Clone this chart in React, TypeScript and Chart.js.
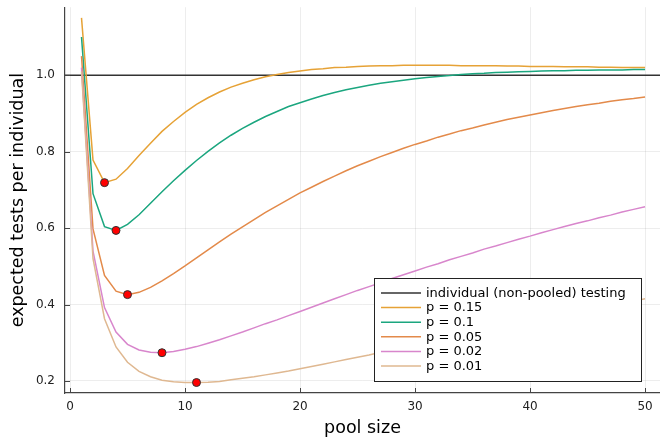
import React, { useEffect, useRef } from "react";
import { Chart, registerables } from "chart.js";

Chart.register(...registerables);

const poolSizes = [1, 2, 3, 4, 5, 6, 7, 8, 9, 10, 11, 12, 13, 14, 15, 16, 17, 18, 19, 20, 21, 22, 23, 24, 25, 26, 27, 28, 29, 30, 31, 32, 33, 34, 35, 36, 37, 38, 39, 40, 41, 42, 43, 44, 45, 46, 47, 48, 49, 50];

const p015 = [1.15, 0.778, 0.719, 0.728, 0.756, 0.79, 0.822, 0.853, 0.879, 0.903, 0.924, 0.941, 0.956, 0.969, 0.979, 0.988, 0.996, 1.002, 1.007, 1.011, 1.015, 1.017, 1.02, 1.021, 1.023, 1.024, 1.025, 1.025, 1.026, 1.026, 1.026, 1.026, 1.026, 1.025, 1.025, 1.025, 1.025, 1.024, 1.024, 1.023, 1.023, 1.023, 1.022, 1.022, 1.022, 1.021, 1.021, 1.02, 1.02, 1.02];

const p010 = [1.1, 0.69, 0.604, 0.594, 0.61, 0.635, 0.665, 0.695, 0.724, 0.751, 0.777, 0.801, 0.823, 0.843, 0.861, 0.877, 0.892, 0.905, 0.918, 0.928, 0.938, 0.947, 0.955, 0.962, 0.968, 0.974, 0.979, 0.983, 0.987, 0.991, 0.994, 0.997, 0.999, 1.002, 1.004, 1.005, 1.007, 1.008, 1.009, 1.01, 1.011, 1.012, 1.012, 1.013, 1.013, 1.014, 1.014, 1.014, 1.015, 1.015];

const p005 = [1.05, 0.598, 0.476, 0.435, 0.426, 0.432, 0.445, 0.462, 0.481, 0.501, 0.522, 0.543, 0.564, 0.584, 0.603, 0.622, 0.641, 0.658, 0.675, 0.692, 0.707, 0.722, 0.736, 0.75, 0.763, 0.775, 0.787, 0.798, 0.809, 0.819, 0.828, 0.838, 0.846, 0.855, 0.862, 0.87, 0.877, 0.884, 0.89, 0.896, 0.902, 0.908, 0.913, 0.918, 0.923, 0.927, 0.932, 0.936, 0.939, 0.943];

const p002 = [1.02, 0.54, 0.392, 0.328, 0.296, 0.281, 0.275, 0.274, 0.277, 0.283, 0.29, 0.299, 0.308, 0.318, 0.328, 0.339, 0.35, 0.36, 0.371, 0.382, 0.393, 0.404, 0.415, 0.426, 0.437, 0.447, 0.457, 0.468, 0.478, 0.488, 0.498, 0.507, 0.517, 0.526, 0.535, 0.545, 0.553, 0.562, 0.571, 0.579, 0.588, 0.596, 0.604, 0.612, 0.619, 0.627, 0.634, 0.642, 0.649, 0.656];

const p001 = [1.01, 0.52, 0.363, 0.289, 0.249, 0.225, 0.211, 0.202, 0.198, 0.196, 0.196, 0.197, 0.199, 0.203, 0.207, 0.211, 0.216, 0.221, 0.226, 0.232, 0.238, 0.244, 0.25, 0.256, 0.262, 0.268, 0.275, 0.281, 0.287, 0.294, 0.3, 0.306, 0.313, 0.319, 0.325, 0.331, 0.338, 0.344, 0.35, 0.356, 0.362, 0.368, 0.374, 0.38, 0.386, 0.392, 0.398, 0.404, 0.409, 0.415];

const optimalSizes = [3, 4, 5, 8, 11];
const optimalValues = [0.719, 0.594, 0.426, 0.274, 0.196];

const individualValue = 1.0;

const seriesLabels = ["p = 0.15", "p = 0.1", "p = 0.05", "p = 0.02", "p = 0.01"];
const seriesValues = [p015, p010, p005, p002, p001];
const seriesColors = ["#e6a236", "#1ba67f", "#e38a4a", "#d886cc", "#dfb891"];

const xTicks = [0, 10, 20, 30, 40, 50];
const yTicks = [0.2, 0.4, 0.6, 0.8, 1.0];

const X_MIN = -0.435;
const X_MAX = 51.3;
const Y_MIN = 0.1686;
const Y_MAX = 1.178;

const FONT = "DejaVu Sans";
const SHIFT = 10;

const innerTicks = {
  id: "innerTicks",
  afterDatasetsDraw(chart: any) {
    const { ctx, chartArea, scales } = chart;
    ctx.save();
    ctx.strokeStyle = "#444";
    ctx.lineWidth = 1;
    for (const v of xTicks) {
      const px = Math.round(scales.x.getPixelForValue(v)) + 0.5;
      ctx.beginPath();
      ctx.moveTo(px, chartArea.bottom);
      ctx.lineTo(px, chartArea.bottom - 5);
      ctx.stroke();
    }
    for (const v of yTicks) {
      const py = Math.round(scales.y.getPixelForValue(v)) + 0.5;
      ctx.beginPath();
      ctx.moveTo(chartArea.left, py);
      ctx.lineTo(chartArea.left + 5, py);
      ctx.stroke();
    }
    ctx.restore();
  },
};

const boxLegend = {
  id: "boxLegend",
  afterDraw(chart: any) {
    const { ctx } = chart;
    const items = chart.data.datasets.filter((d: any) => d.inLegend);
    const x0 = 374.5;
    const y0 = 278.5 + SHIFT;
    const w = 267;
    const h = 103;
    ctx.save();
    ctx.fillStyle = "#ffffff";
    ctx.fillRect(x0, y0, w, h);
    ctx.strokeStyle = "#222";
    ctx.lineWidth = 1;
    ctx.strokeRect(x0, y0, w, h);
    ctx.font = `13px "${FONT}"`;
    ctx.textBaseline = "middle";
    ctx.textAlign = "left";
    items.forEach((d: any, i: number) => {
      const y = 293 + SHIFT + i * 14.6;
      ctx.strokeStyle = d.borderColor;
      ctx.lineWidth = 1.5;
      ctx.beginPath();
      ctx.moveTo(381, y);
      ctx.lineTo(421, y);
      ctx.stroke();
      ctx.fillStyle = "#000";
      ctx.fillText(d.label, 426, y + 0.5);
    });
    ctx.restore();
  },
};

export default function App() {
  const canvasRef = useRef<HTMLCanvasElement | null>(null);

  useEffect(() => {
    if (!canvasRef.current) return;
    const datasets: any[] = [];
    datasets.push({
      type: "line",
      label: "individual (non-pooled) testing",
      inLegend: true,
      data: [
        { x: X_MIN, y: individualValue },
        { x: X_MAX, y: individualValue },
      ],
      borderColor: "#333333",
      borderWidth: 1.3,
      pointRadius: 0,
      order: 10,
    });
    seriesValues.forEach((vals, i) => {
      datasets.push({
        type: "line",
        label: seriesLabels[i],
        inLegend: true,
        data: poolSizes.map((k, j) => ({ x: k, y: vals[j] })),
        borderColor: seriesColors[i],
        borderWidth: 1.5,
        pointRadius: 0,
        tension: 0,
        order: 9 - i,
      });
    });
    datasets.push({
      type: "scatter",
      label: "optimal",
      inLegend: false,
      data: optimalSizes.map((k, j) => ({ x: k, y: optimalValues[j] })),
      backgroundColor: "#ff0000",
      borderColor: "#333333",
      borderWidth: 1,
      pointRadius: 4,
      order: 0,
    });

    const chart = new Chart(canvasRef.current, {
      type: "line",
      data: { datasets },
      options: {
        animation: false,
        responsive: false,
        devicePixelRatio: 1,
        layout: { padding: { top: 0, left: 0, right: 0, bottom: 0 } },
        plugins: { legend: { display: false }, tooltip: { enabled: false } },
        scales: {
          x: {
            type: "linear",
            min: X_MIN,
            max: X_MAX,
            afterBuildTicks: (scale: any) => {
              scale.ticks = xTicks.map((v) => ({ value: v }));
            },
            afterFit: (scale: any) => {
              scale.height = 50;
            },
            ticks: {
              font: { family: FONT, size: 12 },
              color: "#222",
              padding: 7,
              maxRotation: 0,
              callback: (v: any) => String(v),
            },
            grid: { color: "rgba(0,0,0,0.07)", lineWidth: 1, drawTicks: false },
            border: { display: true, color: "#444", width: 1.2 },
            title: {
              display: true,
              text: "pool size",
              font: { family: FONT, size: 17.5 },
              color: "#000",
              padding: { top: 0, bottom: 4 },
            },
          },
          y: {
            type: "linear",
            min: Y_MIN,
            max: Y_MAX,
            afterBuildTicks: (scale: any) => {
              scale.ticks = yTicks.map((v) => ({ value: v }));
            },
            afterFit: (scale: any) => {
              scale.width = 65;
            },
            ticks: {
              font: { family: FONT, size: 12 },
              color: "#222",
              padding: 10,
              callback: (v: any) => Number(v).toFixed(1),
            },
            grid: { color: "rgba(0,0,0,0.07)", lineWidth: 1, drawTicks: false },
            border: { display: true, color: "#444", width: 1.2 },
            title: {
              display: true,
              text: "expected tests per individual",
              font: { family: FONT, size: 17.5 },
              color: "#000",
              padding: { top: 7.5, bottom: 0 },
            },
          },
        },
      },
      plugins: [innerTicks, boxLegend],
    } as any);
    return () => chart.destroy();
  }, []);

  return (
    <div style={{ position: "absolute", left: 0, top: 0, width: 660, height: 438, overflow: "hidden", background: "#fff" }}>
      <canvas ref={canvasRef} width={665} height={453} style={{ display: "block", marginTop: -SHIFT }} />
    </div>
  );
}
